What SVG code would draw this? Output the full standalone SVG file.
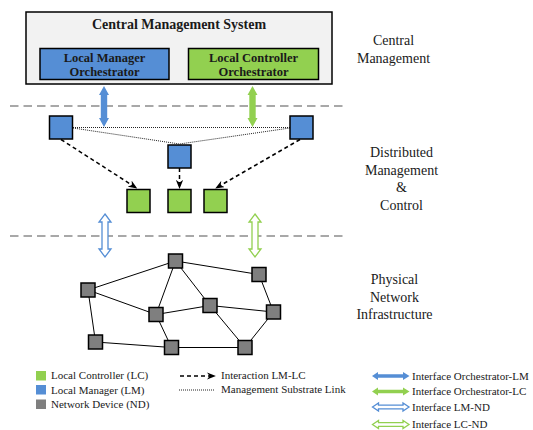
<svg xmlns="http://www.w3.org/2000/svg" width="533" height="430" viewBox="0 0 533 430">
<defs>
<marker id="ah" viewBox="0 0 10 8" refX="9" refY="4" markerWidth="9" markerHeight="7.5" markerUnits="userSpaceOnUse" orient="auto">
<path d="M0,0 L10,4 L0,8 L3,4 Z" fill="#000"/>
</marker>
<style>
.t{font-family:"Liberation Serif","Times New Roman",serif;fill:#1a1a1a}
.lbl{font-size:14px;text-anchor:middle}
.lg{font-size:11px}
.bt{font-weight:bold;text-anchor:middle}
.lm{fill:#558ed5;stroke:#000;stroke-width:1.5}
.lc{fill:#92d050;stroke:#000;stroke-width:1.5}
.nd{fill:#7f7f7f;stroke:#000;stroke-width:1.5}
.sep{stroke:#8c8c8c;stroke-width:1.5;stroke-dasharray:8.5 5;fill:none}
.edge{stroke:#000;stroke-width:1;fill:none}
.dash{stroke:#000;stroke-width:1.5;stroke-dasharray:4 3;fill:none}
.dot{stroke:#222;stroke-width:1;stroke-dasharray:1 1;fill:none}
.sb{fill:#558ed5}
.sg{fill:#92d050}
.hb{fill:#fff;stroke:#558ed5;stroke-width:1.3}
.hg{fill:#fff;stroke:#92d050;stroke-width:1.3}
</style>
</defs>

<!-- layer separators -->
<line class="sep" x1="10" y1="106" x2="347" y2="106"/>
<line class="sep" x1="10" y1="236" x2="347" y2="236"/>

<!-- central management system -->
<g id="cms">
<rect x="26" y="12" width="306" height="72" fill="#f2f2f2" stroke="#000" stroke-width="1.5"/>
<text class="t bt" x="179" y="29" font-size="14">Central Management System</text>
</g>
<g id="lm-orch">
<rect class="lm" x="40" y="48.5" width="129" height="31"/>
<text class="t bt" x="104.5" y="61.5" font-size="12.5">Local Manager</text>
<text class="t bt" x="104.5" y="76" font-size="12.5">Orchestrator</text>
</g>
<g id="lc-orch">
<rect class="lc" x="188.5" y="48.5" width="130" height="31"/>
<text class="t bt" x="253.5" y="61.5" font-size="12.5">Local Controller</text>
<text class="t bt" x="253.5" y="76" font-size="12.5">Orchestrator</text>
</g>

<!-- connectors -->
<g id="connectors">
<!-- management substrate links -->
<line class="dot" x1="73" y1="127.5" x2="290" y2="127.5"/>
<polyline class="dot" points="73,128 179.5,144 290,128"/>
<!-- LM-LC interactions -->
<line class="dash" x1="61" y1="139.5" x2="136.5" y2="188" marker-end="url(#ah)"/>
<line class="dash" x1="179.5" y1="168" x2="179.5" y2="188" marker-end="url(#ah)"/>
<line class="dash" x1="300" y1="139.5" x2="216" y2="188" marker-end="url(#ah)"/>
<!-- orchestrator interfaces -->
<path class="sb" d="M104,86 L109,95 L107.2,95 L107.2,118 L109,118 L104,127 L99,118 L100.8,118 L100.8,95 L99,95 Z"/>
<path class="sg" d="M252.5,86 L257.5,95 L255.7,95 L255.7,118 L257.5,118 L252.5,127 L247.5,118 L249.3,118 L249.3,95 L247.5,95 Z"/>
<!-- ND interfaces -->
<path class="hb" d="M105,214 L111,222 L108,222 L108,249 L111,249 L105,257 L99,249 L102,249 L102,222 L99,222 Z"/>
<path class="hg" d="M255,214 L261,222 L258,222 L258,249 L261,249 L255,257 L249,249 L252,249 L252,222 L249,222 Z"/>
<!-- physical links -->
<line class="edge" x1="88" y1="290" x2="175.5" y2="261"/>
<line class="edge" x1="175.5" y1="261" x2="259" y2="274.5"/>
<line class="edge" x1="175.5" y1="261" x2="156" y2="314.5"/>
<line class="edge" x1="175.5" y1="261" x2="210" y2="305.5"/>
<line class="edge" x1="88" y1="290" x2="156" y2="314.5"/>
<line class="edge" x1="88" y1="290" x2="95.5" y2="342"/>
<line class="edge" x1="156" y1="314.5" x2="210" y2="305.5"/>
<line class="edge" x1="210" y1="305.5" x2="273.5" y2="312"/>
<line class="edge" x1="210" y1="305.5" x2="245" y2="347.5"/>
<line class="edge" x1="259" y1="274.5" x2="273.5" y2="312"/>
<line class="edge" x1="273.5" y1="312" x2="245" y2="347.5"/>
<line class="edge" x1="156" y1="314.5" x2="171.5" y2="347.5"/>
<line class="edge" x1="95.5" y1="342" x2="171.5" y2="347.5"/>
<line class="edge" x1="171.5" y1="347.5" x2="245" y2="347.5"/>
</g>

<!-- local managers -->
<g id="lm1"><rect class="lm" x="49.5" y="116" width="23" height="23"/></g>
<g id="lm2"><rect class="lm" x="168" y="145" width="23" height="23"/></g>
<g id="lm3"><rect class="lm" x="290" y="116" width="23" height="23"/></g>

<!-- local controllers -->
<g id="lc1"><rect class="lc" x="127" y="189.5" width="23" height="23"/></g>
<g id="lc2"><rect class="lc" x="168" y="189.5" width="23" height="23"/></g>
<g id="lc3"><rect class="lc" x="204" y="189.5" width="23" height="23"/></g>

<!-- network devices -->
<g id="nd1"><rect class="nd" x="168.5" y="254" width="14" height="14"/></g>
<g id="nd2"><rect class="nd" x="252" y="267.5" width="14" height="14"/></g>
<g id="nd3"><rect class="nd" x="81" y="283" width="14" height="14"/></g>
<g id="nd4"><rect class="nd" x="203" y="298.5" width="14" height="14"/></g>
<g id="nd5"><rect class="nd" x="149" y="307.5" width="14" height="14"/></g>
<g id="nd6"><rect class="nd" x="266.5" y="305" width="14" height="14"/></g>
<g id="nd7"><rect class="nd" x="88.5" y="335" width="14" height="14"/></g>
<g id="nd8"><rect class="nd" x="164.5" y="340.5" width="14" height="14"/></g>
<g id="nd9"><rect class="nd" x="238" y="340.5" width="14" height="14"/></g>

<!-- layer labels -->
<g id="label-central">
<text class="t lbl" x="393.5" y="45">Central</text>
<text class="t lbl" x="393.5" y="62.5">Management</text>
</g>
<g id="label-distributed">
<text class="t lbl" x="401.5" y="157">Distributed</text>
<text class="t lbl" x="401.5" y="174.5">Management</text>
<text class="t lbl" x="401.5" y="192">&amp;</text>
<text class="t lbl" x="401.5" y="209.5">Control</text>
</g>
<g id="label-physical">
<text class="t lbl" x="394.5" y="284">Physical</text>
<text class="t lbl" x="394.5" y="301.5">Network</text>
<text class="t lbl" x="394.5" y="319">Infrastructure</text>
</g>

<!-- legend -->
<g id="legend">
<rect x="36" y="371" width="10" height="9.5" fill="#92d050"/>
<rect x="36" y="385" width="10" height="9.5" fill="#558ed5"/>
<rect x="36" y="399.5" width="10" height="9.5" fill="#7f7f7f"/>
<text class="t lg" x="51" y="379">Local Controller (LC)</text>
<text class="t lg" x="51" y="393.5">Local Manager (LM)</text>
<text class="t lg" x="51" y="408">Network Device (ND)</text>

<line class="dash" x1="180" y1="376" x2="215" y2="376" marker-end="url(#ah)"/>
<line class="dot" x1="179" y1="390" x2="214" y2="390"/>
<text class="t lg" x="221" y="379">Interaction LM-LC</text>
<text class="t lg" x="221" y="393">Management Substrate Link</text>

<path class="sb" d="M372,376 L378,372 L378,374.2 L403,374.2 L403,372 L409.5,376 L403,380 L403,377.8 L378,377.8 L378,380 Z"/>
<path class="sg" d="M372,391.5 L378,387.5 L378,389.7 L403,389.7 L403,387.5 L409.5,391.5 L403,395.5 L403,393.3 L378,393.3 L378,395.5 Z"/>
<path class="hb" d="M372.5,407 L378.5,403 L378.5,405.2 L403,405.2 L403,403 L409,407 L403,411 L403,408.8 L378.5,408.8 L378.5,411 Z"/>
<path class="hg" d="M372.5,424.5 L378.5,420.5 L378.5,422.7 L403,422.7 L403,420.5 L409,424.5 L403,428.5 L403,426.3 L378.5,426.3 L378.5,428.5 Z"/>
<text class="t lg" x="412" y="379.5">Interface Orchestrator-LM</text>
<text class="t lg" x="412" y="395">Interface Orchestrator-LC</text>
<text class="t lg" x="412" y="410.5">Interface LM-ND</text>
<text class="t lg" x="412" y="428">Interface LC-ND</text>
</g>
</svg>
